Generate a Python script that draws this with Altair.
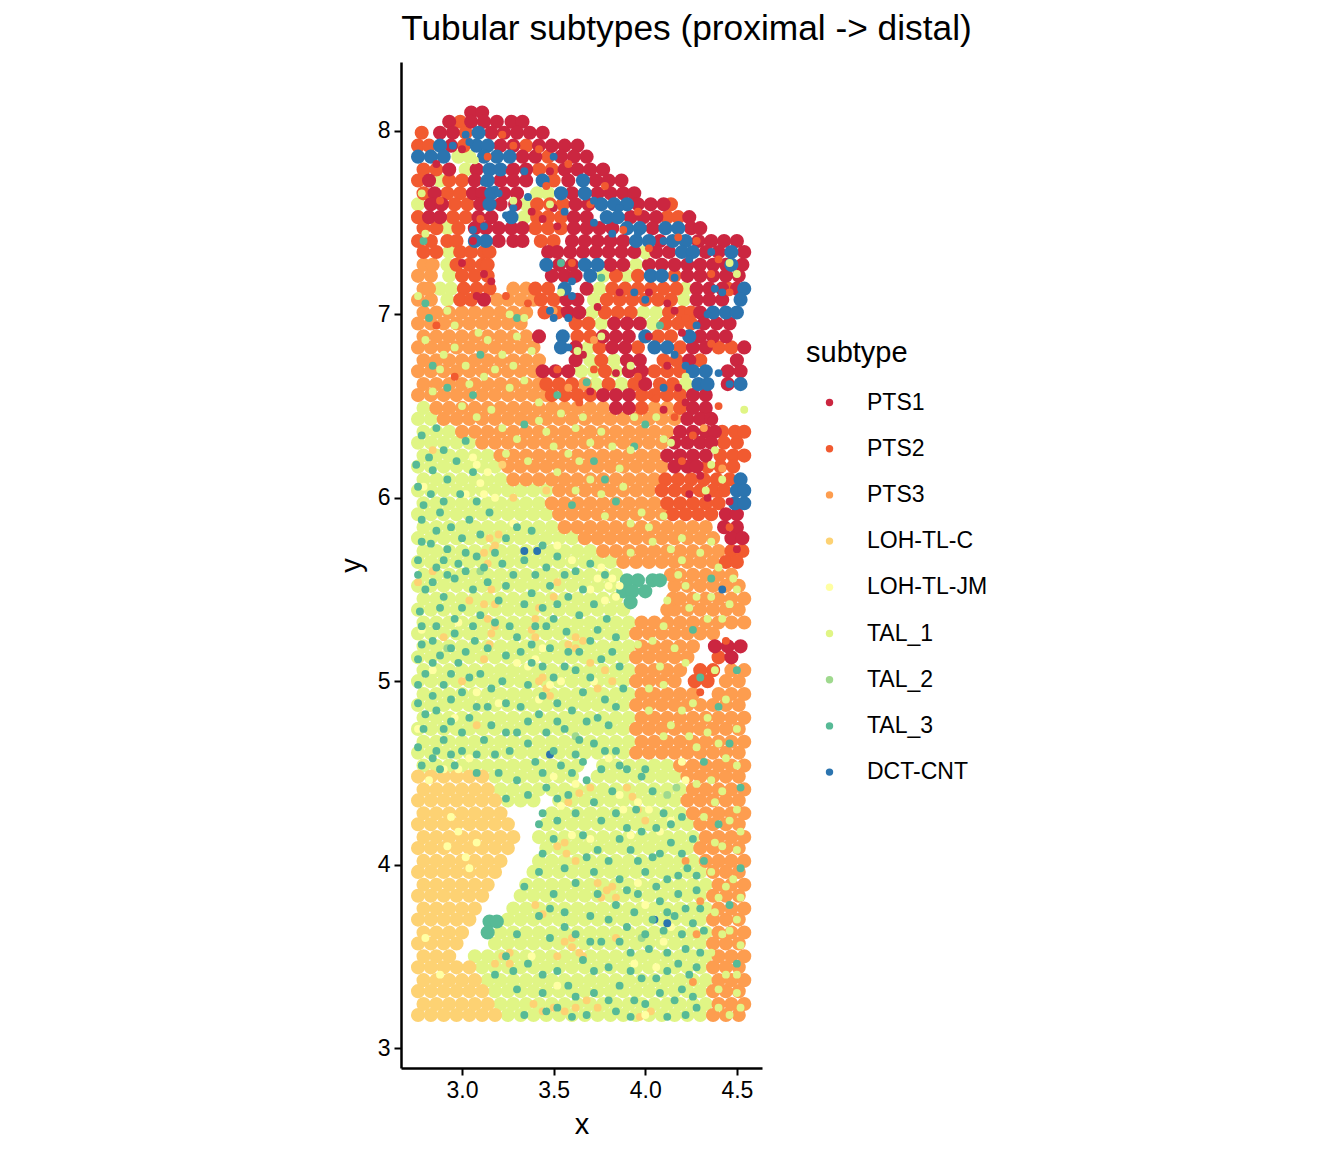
import altair as alt
import pandas as pd

SUBTYPES = ["PTS1", "PTS2", "PTS3", "LOH-TL-C", "LOH-TL-JM", "TAL_1", "TAL_2", "TAL_3", "DCT-CNT"]
COLOURS = ["#CB2640", "#F15A30", "#FD9D4F", "#FDD273", "#FFFFA3", "#E0F585", "#9FD98E", "#57BA96", "#2B74AF"]

# broad patches, y value -> x values along that row
TAL_1_FIELD = {
    3.18: [3.25,3.32,3.39,3.46,3.53,3.60,3.67,3.74,3.81,3.88,3.95,4.02,4.09,4.16,4.23,4.30],
    3.24: [3.21,3.28,3.35,3.42,3.49,3.56,3.63,3.70,3.77,3.84,3.91,3.98,4.05,4.12,4.19,4.26,4.33],
    3.31: [3.18,3.25,3.32,3.39,3.46,3.53,3.60,3.67,3.74,3.81,3.88,3.95,4.02,4.09,4.16,4.23,4.30],
    3.37: [3.14,3.21,3.28,3.35,3.42,3.49,3.56,3.63,3.70,3.77,3.84,3.91,3.98,4.05,4.12,4.19,4.26,4.33],
    3.44: [3.11,3.18,3.25,3.32,3.39,3.46,3.53,3.60,3.67,3.74,3.81,3.88,3.95,4.02,4.09,4.16,4.23,4.30],
    3.50: [3.07,3.14,3.21,3.28,3.35,3.42,3.49,3.56,3.63,3.70,3.77,3.84,3.91,3.98,4.05,4.12,4.19,4.26,4.33],
    3.57: [3.18,3.25,3.32,3.39,3.46,3.53,3.60,3.67,3.74,3.81,3.88,3.95,4.02,4.09,4.16,4.23,4.30],
    3.63: [3.21,3.28,3.35,3.42,3.49,3.56,3.63,3.70,3.77,3.84,3.91,3.98,4.05,4.12,4.19,4.26,4.33],
    3.70: [3.25,3.32,3.39,3.46,3.53,3.60,3.67,3.74,3.81,3.88,3.95,4.02,4.09,4.16,4.23,4.30],
    3.76: [3.28,3.35,3.42,3.49,3.56,3.63,3.70,3.77,3.84,3.91,3.98,4.05,4.12,4.19,4.26,4.33],
    3.83: [3.32,3.39,3.46,3.53,3.60,3.67,3.74,3.81,3.88,3.95,4.02,4.09,4.16,4.23,4.30],
    3.89: [3.35,3.42,3.49,3.56,3.63,3.70,3.77,3.84,3.91,3.98,4.05,4.12,4.19,4.26,4.33],
    3.96: [3.39,3.46,3.53,3.60,3.67,3.74,3.81,3.88,3.95,4.02,4.09,4.16,4.23,4.30],
    4.02: [3.42,3.49,3.56,3.63,3.70,3.77,3.84,3.91,3.98,4.05,4.12,4.19,4.26],
    4.09: [3.46,3.53,3.60,3.67,3.74,3.81,3.88,3.95,4.02,4.09,4.16,4.23],
    4.15: [3.42,3.49,3.56,3.63,3.70,3.77,3.84,3.91,3.98,4.05,4.12,4.19,4.26],
    4.22: [3.46,3.53,3.60,3.67,3.74,3.81,3.88,3.95,4.02,4.09,4.16,4.23],
    4.28: [3.49,3.56,3.63,3.70,3.77,3.84,3.91,3.98,4.05,4.12,4.19],
    4.35: [3.25,3.32,3.39,3.53,3.60,3.67,3.74,3.81,3.88,3.95,4.02,4.09,4.16],
    4.41: [3.21,3.28,3.35,3.42,3.49,3.56,3.63,3.70,3.77,3.84,3.91,3.98,4.05,4.12,4.19],
    4.48: [3.18,3.25,3.32,3.39,3.46,3.53,3.60,3.74,3.81,3.88,3.95,4.02,4.09,4.16],
    4.54: [2.79,2.86,2.93,3.00,3.07,3.14,3.21,3.28,3.35,3.42,3.49,3.56,3.63,3.77,3.84,3.91,3.98,4.05,4.12],
    4.61: [2.76,2.83,2.90,2.97,3.04,3.11,3.18,3.25,3.32,3.39,3.46,3.53,3.60,3.67,3.74,3.81,3.88],
    4.67: [2.79,2.86,2.93,3.00,3.07,3.14,3.21,3.28,3.35,3.42,3.49,3.56,3.63,3.70,3.77,3.84,3.91],
    4.74: [2.76,2.83,2.90,2.97,3.04,3.11,3.18,3.25,3.32,3.39,3.46,3.53,3.60,3.67,3.74,3.81,3.88],
    4.80: [2.79,2.86,2.93,3.00,3.07,3.14,3.21,3.28,3.35,3.42,3.49,3.56,3.63,3.70,3.77,3.84,3.91],
    4.87: [2.76,2.83,2.90,2.97,3.04,3.11,3.18,3.25,3.32,3.39,3.46,3.53,3.60,3.67,3.74,3.81,3.88],
    4.93: [2.79,2.86,2.93,3.00,3.07,3.14,3.21,3.28,3.35,3.42,3.49,3.56,3.63,3.70,3.77,3.84,3.91],
    5.00: [2.76,2.83,2.90,2.97,3.04,3.11,3.18,3.25,3.32,3.39,3.46,3.53,3.60,3.67,3.74,3.81,3.88],
    5.06: [2.79,2.86,2.93,3.00,3.07,3.14,3.21,3.28,3.35,3.42,3.49,3.56,3.63,3.70,3.77,3.84,3.91],
    5.13: [2.76,2.83,2.90,2.97,3.04,3.11,3.18,3.25,3.32,3.39,3.46,3.53,3.60,3.67,3.74,3.81,3.88],
    5.19: [2.79,2.86,2.93,3.00,3.07,3.14,3.21,3.28,3.35,3.42,3.49,3.56,3.63,3.70,3.77,3.84,3.91],
    5.26: [2.76,2.83,2.90,2.97,3.04,3.11,3.18,3.25,3.32,3.39,3.46,3.53,3.60,3.67,3.74,3.81,3.88],
    5.32: [2.79,2.86,2.93,3.00,3.07,3.14,3.21,3.28,3.35,3.42,3.49,3.56,3.63,3.70,3.77,3.84,3.91],
    5.39: [2.76,2.83,2.90,2.97,3.04,3.11,3.18,3.25,3.32,3.39,3.46,3.53,3.60,3.67,3.74,3.81,3.88],
    5.45: [2.79,2.86,2.93,3.00,3.07,3.14,3.21,3.28,3.35,3.42,3.49,3.56,3.63,3.70,3.77,3.84],
    5.52: [2.76,2.83,2.90,2.97,3.04,3.11,3.18,3.25,3.32,3.39,3.46,3.53,3.60,3.67,3.74,3.81],
    5.58: [2.79,2.86,2.93,3.00,3.07,3.14,3.21,3.28,3.35,3.42,3.49,3.56,3.63,3.70,3.77,3.84],
    5.65: [2.76,2.83,2.90,2.97,3.04,3.11,3.18,3.25,3.32,3.39,3.46,3.53,3.60,3.67,3.74,3.81],
    5.71: [2.79,2.86,2.93,3.00,3.07,3.14,3.21,3.28,3.35,3.42,3.49,3.56,3.63,3.70],
    5.78: [2.76,2.83,2.90,2.97,3.04,3.11,3.18,3.25,3.32,3.39,3.46,3.53,3.60],
    5.84: [2.79,2.86,2.93,3.00,3.07,3.14,3.21,3.28,3.35,3.42,3.49],
    5.91: [2.76,2.83,2.90,2.97,3.04,3.11,3.18,3.25,3.32,3.39,3.46],
    5.97: [2.79,2.86,2.93,3.00,3.07,3.14,3.21,3.28,3.35,3.42],
    6.04: [2.76,2.83,2.90,2.97,3.04,3.11,3.18,3.25,3.32,3.39,3.46],
    6.10: [2.79,2.86,2.93,3.00,3.07,3.14,3.21],
    6.17: [2.76,2.83,2.90,2.97,3.04,3.11,3.18],
    6.23: [2.79,2.86,2.93,3.00,3.07,3.14],
    6.30: [2.76,2.83,2.90,2.97,3.04],
    6.36: [2.79,2.86,2.93],
    6.43: [2.76,2.83],
    6.49: [2.79],
    7.86: [2.98,3.04],
    7.79: [3.02],
    7.73: [2.88],
    7.66: [3.41,3.47],
    7.60: [2.76,3.35],
    7.53: [3.34],
    7.47: [2.92],
    7.34: [2.93,4.00],
    7.27: [2.92,3.95],
    7.21: [2.93,3.77,3.90],
    7.14: [2.88,2.94,3.75,4.22],
    7.08: [2.92,3.72,4.21],
    7.01: [3.71,3.99,4.06],
    6.95: [3.76,4.04],
    6.82: [3.69],
    6.75: [3.70,3.83],
    6.69: [3.65,3.72,3.84],
    6.62: [3.73,3.87,4.22],
}
LOH_C_FIELD = {
    3.18: [2.76,2.83,2.90,2.97,3.04,3.11,3.18],
    3.24: [2.79,2.86,2.93,3.00,3.07,3.14],
    3.31: [2.76,2.83,2.90,2.97,3.04,3.11],
    3.37: [2.79,2.86,2.93,3.00,3.07],
    3.44: [2.76,2.83,2.90,2.97,3.04],
    3.50: [2.79,2.86,2.93],
    3.57: [2.76,2.83,2.90,2.97],
    3.63: [2.79,2.86,2.93,3.00],
    3.70: [2.76,2.83,2.90,2.97,3.04],
    3.76: [2.79,2.86,2.93,3.00,3.07],
    3.83: [2.76,2.83,2.90,2.97,3.04,3.11],
    3.89: [2.79,2.86,2.93,3.00,3.07,3.14],
    3.96: [2.76,2.83,2.90,2.97,3.04,3.11,3.18],
    4.02: [2.79,2.86,2.93,3.00,3.07,3.14,3.21],
    4.09: [2.76,2.83,2.90,2.97,3.04,3.11,3.18,3.25],
    4.15: [2.79,2.86,2.93,3.00,3.07,3.14,3.21,3.28],
    4.22: [2.76,2.83,2.90,2.97,3.04,3.11,3.18,3.25],
    4.28: [2.79,2.86,2.93,3.00,3.07,3.14,3.21],
    4.35: [2.76,2.83,2.90,2.97,3.04,3.11,3.18],
    4.41: [2.79,2.86,2.93,3.00,3.07,3.14],
    4.48: [2.76,2.83,2.90,2.97,3.04,3.11],
}
PTS3_FIELD = {
    3.18: [4.37,4.44,4.51], 3.24: [4.40,4.47,4.54], 3.31: [4.37,4.44,4.51], 3.37: [4.40,4.47,4.54],
    3.44: [4.37,4.44,4.51], 3.50: [4.40,4.47,4.54], 3.57: [4.37,4.44,4.51], 3.63: [4.40,4.47,4.54],
    3.70: [4.37,4.44,4.51], 3.76: [4.40,4.47,4.54], 3.83: [4.37,4.44,4.51], 3.89: [4.40,4.47,4.54],
    3.96: [4.37,4.44,4.51], 4.02: [4.33,4.40,4.47,4.54], 4.09: [4.30,4.37,4.44,4.51],
    4.15: [4.33,4.40,4.47,4.54], 4.22: [4.30,4.37,4.44,4.51], 4.28: [4.26,4.33,4.40,4.47,4.54],
    4.35: [4.23,4.30,4.37,4.44,4.51], 4.41: [4.26,4.33,4.40,4.47,4.54],
    4.48: [4.23,4.30,4.37,4.44,4.51], 4.54: [4.19,4.26,4.33,4.40,4.47,4.54],
    4.61: [3.95,4.02,4.09,4.16,4.23,4.30,4.37,4.44,4.51],
    4.67: [3.98,4.05,4.12,4.19,4.26,4.33,4.40,4.47,4.54],
    4.74: [3.95,4.02,4.09,4.16,4.23,4.30,4.37,4.44,4.51],
    4.80: [3.98,4.05,4.12,4.19,4.26,4.33,4.40,4.47,4.54],
    4.87: [3.95,4.02,4.09,4.16,4.23,4.30,4.37,4.44,4.51],
    4.93: [3.98,4.05,4.12,4.19,4.26,4.40,4.47,4.54],
    5.00: [3.95,4.02,4.09,4.16,4.44,4.51],
    5.06: [3.98,4.05,4.12,4.19,4.47,4.54],
    5.13: [3.95,4.02,4.09,4.16,4.23],
    5.19: [3.98,4.05,4.12,4.19,4.26],
    5.26: [3.95,4.02,4.09,4.16,4.23,4.30,4.37],
    5.32: [3.98,4.05,4.12,4.19,4.26,4.33,4.40,4.47,4.54],
    5.39: [4.12,4.16,4.23,4.30,4.37,4.44,4.51],
    5.45: [4.15,4.19,4.26,4.33,4.40,4.47,4.54],
    5.52: [4.16,4.23,4.30,4.37,4.44,4.51],
    5.58: [4.14,4.19,4.26,4.33,4.40,4.47],
    5.65: [3.88,3.95,4.02,4.09,4.16,4.23,4.30,4.37],
    5.71: [3.77,3.84,3.91,3.98,4.05,4.12,4.19,4.26,4.33,4.40],
    5.78: [3.67,3.74,3.81,3.88,3.95,4.02,4.09,4.16,4.23,4.30,4.37],
    5.84: [3.56,3.63,3.70,3.77,3.84,3.91,3.98,4.05,4.12,4.19,4.26,4.33],
    5.91: [3.53,3.60,3.67,3.74,3.81,3.88,3.95,4.02,4.09],
    5.97: [3.49,3.56,3.63,3.70,3.77,3.84,3.91,3.98,4.05],
    6.04: [3.53,3.60,3.67,3.74,3.81,3.88,3.95,4.02],
    6.10: [3.28,3.35,3.42,3.49,3.56,3.63,3.70,3.77,3.84,3.91,3.98,4.05],
    6.17: [3.25,3.32,3.39,3.46,3.53,3.60,3.67,3.74,3.81,3.88,3.95,4.02,4.09],
    6.23: [3.21,3.28,3.35,3.42,3.49,3.56,3.63,3.70,3.77,3.84,3.91,3.98,4.05],
    6.30: [3.11,3.18,3.25,3.32,3.39,3.46,3.53,3.60,3.67,3.74,3.81,3.88,3.95,4.02,4.09],
    6.36: [3.00,3.07,3.14,3.21,3.28,3.35,3.42,3.49,3.56,3.63,3.70,3.77,3.84,3.91,3.98,4.05,4.12],
    6.43: [2.90,2.97,3.04,3.11,3.18,3.25,3.32,3.39,3.46,3.53,3.60,3.67,3.74,3.81,3.88,3.95,4.02,4.09,4.16],
    6.49: [2.86,2.93,3.00,3.07,3.14,3.21,3.28,3.35,3.42,3.49,3.56,3.63,3.70,3.77,4.05,4.12],
    6.56: [2.76,2.83,2.90,2.97,3.04,3.11,3.18,3.25,3.32,3.39,3.46],
    6.62: [2.79,2.86,2.93,3.00,3.07,3.14,3.21,3.28,3.35,3.42,3.67],
    6.69: [2.76,2.83,2.90,2.97,3.04,3.11,3.18,3.25,3.32,3.39],
    6.75: [2.79,2.86,2.93,3.00,3.07,3.14,3.21,3.28,3.35,3.42],
    6.82: [2.76,2.83,2.90,2.97,3.04,3.11,3.18,3.25,3.32,3.39],
    6.88: [2.79,2.86,2.93,3.00,3.07,3.14,3.21,3.28,3.35],
    6.95: [2.76,2.83,2.90,2.97,3.04,3.11,3.18,3.25,3.32],
    7.01: [2.79,2.86,2.93,3.00,3.07,3.14,3.21,3.28,3.35],
    7.08: [2.76,2.83,3.19,3.25,3.32,3.39],
    7.14: [2.79,2.82,3.28,3.35],
    7.21: [2.76,2.83],
    7.27: [2.79,2.84],
}
PTS2_FIELD = {
    8.05: [2.99],
    7.99: [2.78,3.02],
    7.92: [2.76,2.82,3.01,3.35],
    7.86: [3.47],
    7.79: [2.79,2.86,3.42,3.49],
    7.73: [2.76,2.93,3.00,3.50],
    7.66: [2.79,2.92,2.99],
    7.60: [2.96,3.03,3.41,3.48,3.55,4.14],
    7.53: [2.76,2.95,3.02,3.41,3.47,3.54,4.12,4.18],
    7.47: [2.79,2.86,2.98,3.40,3.47,3.54],
    7.40: [2.76,2.83,2.92,2.97,3.43,3.50],
    7.34: [2.79,2.86,2.99,3.05,3.12,3.15],
    7.27: [2.97,3.04,3.11,3.14],
    7.21: [3.00,3.07,3.14,3.84,3.96,4.16],
    7.14: [3.01,3.08,3.15,3.40,3.47,3.82,3.89,3.96,4.03,4.10,4.17,4.45],
    7.08: [2.99,3.05,3.43,3.50,3.79,3.86,3.93,4.00,4.07,4.14],
    7.01: [3.45,3.52,3.78,3.85,3.92,4.13,4.20,4.25],
    6.95: [3.62,3.69,4.11,4.18,4.25],
    6.88: [3.63,3.70,4.07,4.14],
    6.82: [3.75,3.96,4.19,4.40,4.47],
    6.75: [3.76,4.10,4.17,4.30],
    6.69: [3.78,4.05,4.12,4.19],
    6.62: [3.46,3.53,3.60,3.80,3.94,4.08,4.15],
    6.56: [3.49,3.56,3.63,3.70,3.98,4.05,4.12,4.19],
    6.49: [3.98,4.19],
    6.36: [4.42,4.49,4.54],
    6.30: [4.43,4.50],
    6.23: [4.41,4.48,4.54],
    6.17: [4.34,4.41,4.48],
    6.10: [4.11,4.18,4.25,4.32,4.39,4.46],
    6.04: [4.09,4.16,4.23,4.30,4.37,4.43],
    5.97: [4.12,4.19,4.26,4.33,4.40],
    5.91: [4.15,4.22,4.29,4.36],
    5.71: [4.47,4.53],
    5.65: [4.44,4.50],
    5.13: [4.40],
    5.06: [4.30,4.37],
    5.00: [4.27,4.34],
}
PTS1_FIELD = {
    8.10: [3.05,3.11],
    8.05: [2.93,3.05,3.12,3.19,3.27,3.33],
    7.99: [2.88,2.95,3.16,3.23,3.30,3.37,3.44],
    7.92: [2.94,3.21,3.28,3.42,3.49,3.56,3.63],
    7.86: [3.33,3.40,3.54,3.61,3.68],
    7.79: [2.93,3.08,3.28,3.35,3.56,3.63,3.70,3.77],
    7.73: [2.82,3.07,3.21,3.28,3.35,3.58,3.73,3.80,3.87],
    7.66: [2.85,3.06,3.11,3.23,3.30,3.60,3.74,3.81,3.88,3.94],
    7.60: [2.83,2.89,3.10,3.21,3.29,3.62,3.69,3.96,4.03,4.10],
    7.53: [2.82,2.88,3.09,3.16,3.61,3.68,3.92,3.99,4.06,4.24],
    7.47: [3.07,3.13,3.20,3.27,3.33,3.61,3.68,3.75,3.82,4.04,4.25,4.30],
    7.40: [3.20,3.28,3.33,3.60,3.67,3.74,3.81,3.88,4.08,4.29,4.36,4.43,4.50],
    7.34: [3.47,3.52,3.59,3.66,3.73,3.80,3.87,3.94,4.06,4.13,4.33,4.40,4.54],
    7.27: [3.53,3.60,3.81,3.88,4.02,4.09,4.16,4.23,4.30,4.37,4.44,4.53],
    7.21: [3.49,3.56,3.62,4.23,4.30,4.37,4.44,4.51],
    7.14: [3.68,4.28,4.35,4.42,4.50],
    7.08: [3.12,3.57,3.63,4.28,4.35,4.42],
    7.01: [3.58,3.64,4.30],
    6.95: [3.83,3.90,3.97,4.32,4.39,4.46],
    6.88: [3.42,3.77,3.84,3.91,4.30,4.37,4.44],
    6.82: [3.62,3.82,3.89,4.26,4.33,4.54],
    6.75: [3.62,3.90,3.97,4.24,4.50],
    6.69: [3.44,3.51,3.58,3.91,3.98,4.45,4.52],
    6.62: [4.00,4.45],
    6.56: [3.77,3.84,3.91,4.26,4.33],
    6.49: [3.84,3.91,4.26,4.33],
    6.43: [4.23,4.30,4.36],
    6.36: [4.19,4.26,4.33,4.38],
    6.30: [4.16,4.23,4.30,4.36],
    6.23: [4.12,4.19,4.26,4.33],
    6.17: [4.16,4.23,4.28],
    5.91: [4.44,4.50],
    5.84: [4.43,4.50],
    5.78: [4.47,4.53],
    5.19: [4.38,4.45,4.52],
    5.13: [4.47],
}
DCT_CNT_FIELD = {
    7.99: [3.09],
    7.92: [2.88,3.08,3.14],
    7.86: [2.76,2.83,2.90,3.12,3.19,3.26],
    7.79: [3.15,3.21],
    7.73: [3.14,3.44,3.66],
    7.66: [3.16,3.54,3.67],
    7.60: [3.15,3.76,3.83,3.90],
    7.53: [3.27,3.79,3.85],
    7.47: [3.90,3.97,4.11,4.18],
    7.40: [3.07,3.13,3.95,4.02,4.15,4.22],
    7.34: [4.20,4.26,4.47],
    7.27: [3.46,3.67,3.74,4.47],
    7.21: [3.70,4.03,4.09],
    7.14: [3.56,4.54],
    7.08: [4.52],
    7.01: [4.37,4.44,4.50],
    6.88: [3.55,4.00,4.24],
    6.82: [3.54,4.05,4.12],
    6.69: [4.26,4.33],
    6.62: [4.29,4.34,4.52],
    6.10: [4.52],
    6.04: [4.50,4.54],
    5.97: [4.49,4.54],
}
TAL_3_FIELD = {
    5.55: [3.90,3.96,4.04,4.08],
    5.49: [3.88,3.93,4.00],
    5.43: [3.92],
    3.69: [3.15,3.19],
    3.63: [3.14],
}

# single spots on top of the patches, (x, y)
TAL_3_SPOTS = [
    (2.78,6.34),(2.86,6.38),(3.02,6.31),(2.84,6.15),(2.92,6.10),(2.99,6.02),(2.79,5.96),(2.88,5.92),(2.94,5.84),(3.04,5.88),
    (2.83,5.75),(2.92,5.72),(3.02,5.70),(3.12,5.62),(2.76,5.66),(2.86,5.62),(2.96,5.56),(3.06,5.50),(2.80,5.50),(2.90,5.46),
    (2.77,5.38),(3.00,5.40),(3.10,5.36),(2.86,5.30),(2.96,5.26),(3.07,5.22),(2.78,5.20),(2.88,5.14),(2.98,5.10),(3.10,5.04),
    (2.80,5.04),(2.90,4.98),(3.00,4.94),(2.76,4.88),(2.86,4.84),(2.94,4.78),(3.04,4.80),(3.14,4.86),(2.79,4.74),(2.90,4.68),
    (3.00,4.62),(3.12,4.68),(2.84,4.58),(2.96,4.54),(3.08,4.50),(3.18,4.60),(3.24,4.72),(3.22,5.00),(3.24,5.14),(3.26,5.30),
    (3.20,5.44),(3.28,5.58),(3.24,5.78),(3.30,5.84),(3.34,5.66),(3.40,5.58),(3.46,5.62),(3.52,5.42),(3.44,5.40),(3.34,5.42),
    (3.30,5.24),(3.38,5.20),(3.46,5.30),(3.57,5.27),(3.64,5.36),(3.72,5.42),(3.79,5.34),(3.84,5.24),(3.70,5.22),(3.58,5.16),
    (3.44,5.08),(3.36,4.98),(3.50,5.02),(3.62,5.06),(3.76,5.12),(3.86,5.08),(3.32,4.86),(3.42,4.82),(3.52,4.88),(3.66,4.94),
    (3.78,4.90),(3.88,4.96),(3.26,4.62),(3.36,4.66),(3.46,4.72),(3.56,4.74),(3.68,4.78),(3.80,4.76),(3.40,4.56),(3.50,4.62),
    (3.62,4.60),(3.72,4.66),(3.84,4.62),(3.76,4.52),(3.60,4.50),(3.44,4.50),(3.30,4.46),(3.24,4.36),(3.36,4.38),(3.46,4.42),
    (3.58,4.38),(3.68,4.46),(3.90,4.52),(3.98,4.48),(3.44,4.28),(3.62,4.28),(3.72,4.34),(3.82,4.40),(3.95,4.30),(4.04,4.40),
    (3.42,4.22),(3.66,4.16),(3.76,4.24),(3.86,4.14),(3.98,4.18),(4.10,4.28),(4.20,4.26),(3.44,4.06),(3.56,3.98),(3.68,4.04),
    (3.80,4.02),(3.92,4.08),(4.04,4.04),(4.14,4.12),(4.26,4.14),(3.34,3.88),(3.50,3.84),(3.62,3.90),(3.74,3.84),(3.86,3.92),
    (4.00,3.96),(4.12,3.92),(4.23,3.98),(4.32,4.02),(3.42,3.72),(3.56,3.74),(3.70,3.72),(3.84,3.78),(3.96,3.84),(4.08,3.80),
    (4.18,3.84),(4.28,3.86),(3.30,3.62),(3.48,3.60),(3.62,3.62),(3.76,3.58),(3.90,3.66),(4.04,3.70),(4.16,3.72),(4.26,3.68),
    (4.32,3.64),(3.24,3.50),(3.36,3.46),(3.52,3.42),(3.66,3.48),(3.80,3.44),(3.92,3.52),(4.02,3.54),(4.12,3.42),(4.18,3.46),
    (4.24,3.40),(4.30,3.52),(3.18,3.40),(3.30,3.32),(3.44,3.30),(3.58,3.34),(3.72,3.30),(3.86,3.34),(3.98,3.38),(4.08,3.30),
    (4.20,3.32),(3.34,3.18),(3.52,3.22),(3.68,3.18),(3.84,3.20),(4.00,3.24),(4.12,3.17),(4.28,3.22),(4.50,3.46),(4.46,3.78),
    (4.52,3.98),(4.40,4.22),(4.52,4.42),(4.32,4.56),(4.46,4.66),(4.40,4.86),(4.30,5.02),(4.50,5.06),(4.26,5.28),(4.36,5.56),
    (3.84,5.98),(3.78,6.10),(3.72,6.20),(3.94,6.28),(4.00,6.40),(3.60,5.96),(3.34,6.40),(3.06,6.56),(2.92,6.60),(2.84,6.72),
    (2.82,6.98),(2.80,7.06),(2.79,7.40),(3.10,6.78),(3.30,6.98),(3.54,7.28),(3.76,7.20),(4.08,6.94),(3.52,6.56),(3.68,6.63),
    # denser part of the left and middle
    (2.75,6.18),(2.82,6.22),(2.90,6.26),(2.97,6.20),(3.06,6.14),(2.76,6.06),(2.83,6.02),(2.90,5.98),(3.08,5.98),(3.15,5.92),
    (2.78,5.88),(2.86,5.82),(3.00,5.78),(3.10,5.80),(3.18,5.70),(2.78,5.76),(2.90,5.66),(2.98,5.64),(3.08,5.68),(3.22,5.64),
    (2.76,5.58),(2.84,5.54),(2.92,5.58),(3.02,5.60),(3.14,5.54),(3.24,5.52),(2.88,5.40),(2.96,5.34),(3.06,5.30),(3.18,5.32),
    (2.78,5.30),(2.84,5.22),(2.94,5.18),(3.02,5.16),(3.14,5.18),(2.76,5.12),(2.84,5.10),(2.94,5.04),(3.04,5.02),(3.16,4.96),
    (2.76,4.98),(2.84,4.92),(2.94,4.90),(3.08,4.86),(3.24,4.88),(2.80,4.82),(2.90,4.74),(3.00,4.72),(3.16,4.76),(2.76,4.64),
    (2.86,4.62),(2.94,4.60),(3.08,4.60),(3.20,4.50),(2.78,4.54),(2.88,4.52),(3.38,5.82),(3.44,5.74),(3.52,5.68),(3.62,5.60),
    (3.70,5.64),(3.56,5.58),(3.66,5.50),(3.48,5.52),(3.38,5.48),(3.58,5.46),(3.78,5.58),(3.50,5.34),(3.40,5.30),(3.74,5.28),
    (3.32,5.16),(3.48,5.18),(3.64,5.16),(3.82,5.16),(3.38,5.10),(3.56,5.08),(3.70,5.02),(3.84,4.86),(3.44,4.92),(3.60,4.84),
    (3.74,4.80),(3.36,4.78),(3.52,4.78),(3.30,4.72),(3.64,4.68),(3.78,4.62),(3.54,4.54),(3.66,4.56),(3.86,4.54),(4.00,4.52),
    (3.52,4.36),(3.52,4.24),(3.84,4.28),(3.90,4.20),(4.06,4.20),(4.14,4.22),(3.50,4.14),(3.74,4.08),(3.96,4.02),(4.08,4.06),
    (4.20,4.06),(3.42,3.96),(3.72,3.96),(3.90,3.86),(4.06,3.88),(4.18,3.94),(4.28,3.94),(3.48,3.76),(3.80,3.70),(3.94,3.74),
    (4.12,3.74),(4.22,3.76),(4.30,3.76),(3.56,3.66),(3.70,3.58),(3.86,3.58),(4.00,3.62),(4.10,3.64),(4.20,3.62),(4.12,3.52),
    (4.22,3.54),(4.28,3.44),(4.06,3.38),(3.92,3.42),(3.72,3.42),(3.44,3.40),(3.28,3.42),(3.62,3.28),(3.80,3.26),(3.94,3.26),
    (4.16,3.26),(4.26,3.28),(3.46,3.20),(3.60,3.17),(3.92,3.17),(4.22,3.18),
]
TAL_1_SPOTS = [
    (2.78,7.66),(2.80,7.44),(2.76,7.10),(2.92,7.02),(2.96,6.94),(3.14,6.86),(3.09,6.90),(3.26,7.00),(3.34,6.98),(3.30,6.88),
    (3.22,6.78),(3.02,6.72),(2.90,6.78),(3.38,6.80),(3.12,6.66),(3.26,6.60),(2.84,6.58),(3.00,6.50),(3.16,6.48),(3.42,6.52),
    (3.54,6.46),(3.62,6.38),(3.70,6.30),(3.46,6.36),(3.36,6.20),(3.24,6.24),(3.52,6.14),(3.64,6.20),(3.76,6.02),(3.86,6.16),
    (3.92,6.26),(4.06,6.44),(4.10,6.32),(3.94,6.44),(4.14,6.30),(4.36,6.18),(4.38,6.26),(4.42,6.10),(4.33,6.04),(4.54,6.48),
    (3.98,5.92),(4.04,5.76),(4.14,5.72),(4.20,5.66),(3.92,5.70),(4.40,5.62),(4.50,5.50),(4.46,5.42),(4.28,5.46),(4.18,5.58),
    (4.24,5.40),(4.34,5.34),(4.38,5.06),(4.44,4.90),(4.20,4.84),(4.34,4.72),(4.50,4.74),(4.10,4.70),(4.28,4.64),(4.44,4.58),
    (4.36,4.46),(4.50,4.30),(4.38,4.34),(4.42,4.10),(4.52,4.18),(4.48,3.92),(4.40,3.82),(4.50,3.70),(4.42,3.62),(4.52,3.56),
    (4.44,3.40),(4.50,3.30),(4.40,3.22),(4.46,3.18),(4.08,5.08),(4.02,4.96),(4.16,5.18),(3.96,5.20),(4.10,5.30),(3.63,6.80),
    (3.76,6.88),(3.92,6.72),(4.00,7.32),(3.48,7.60),(3.54,7.12),(3.07,7.84),(3.28,7.62),(4.46,7.28),(4.50,7.22),(4.22,6.66),
    # flecks in the orange part
    (2.80,6.86),(2.88,6.70),(2.96,6.82),(3.04,6.62),(3.18,6.70),(3.28,6.72),(3.34,6.64),(3.08,6.44),(3.22,6.38),(3.30,6.32),
    (3.42,6.42),(3.50,6.28),(3.58,6.24),(3.66,6.44),(3.76,6.36),(3.82,6.28),(3.88,6.06),(3.70,6.10),(3.62,6.04),(3.78,5.90),
    (3.92,5.86),(4.02,5.84),(4.10,5.90),(4.20,5.78),(4.30,5.70),(4.36,5.76),(4.48,5.56),(4.36,5.46),(4.22,5.52),(4.42,5.34),
    (4.12,5.44),(4.04,5.22),(4.22,5.10),(4.10,4.98),(4.02,4.84),(4.14,4.76),(4.26,4.88),(4.34,4.80),(4.24,4.70),(4.40,4.66),
    (4.50,4.54),(4.28,4.44),(4.42,4.40),(4.32,4.26),(4.46,4.24),(4.38,4.12),(4.50,4.08),(4.36,3.96),(4.44,3.88),(4.52,3.82),
    (4.38,3.74),(4.46,3.64),(4.36,3.52),(4.50,3.40),(4.40,3.32),(4.52,3.22),
]
LOH_JM_SPOTS = [
    (3.08,6.18),(3.14,6.14),(3.10,6.08),(3.02,6.02),(3.18,6.00),(3.28,5.86),(3.52,5.74),(3.60,5.66),(3.74,5.56),(3.80,5.52),
    (3.84,5.46),(3.78,5.44),(3.70,5.50),(3.44,5.18),(3.40,5.12),(3.36,5.08),(3.30,5.10),(3.72,5.00),(2.98,4.52),(2.90,4.52),
    (2.82,4.46),(3.04,4.58),(2.78,5.28),(2.84,5.06),(2.98,5.32),(3.08,4.94),(3.20,4.88),(2.96,4.80),(2.76,4.74),(2.79,6.06),
    (3.86,4.38),(3.96,4.34),(4.08,4.18),(4.14,4.24),(3.60,4.16),(3.70,4.14),(4.00,3.78),(4.10,3.58),(4.14,3.66),(3.38,3.50),
    (3.52,3.34),(3.94,3.46),(4.06,3.44),(4.00,3.18),(3.04,3.98),(2.98,4.18),(3.08,4.12),(3.02,4.04),(2.80,3.60),(2.88,3.40),
    (3.62,4.44),(3.54,4.32),(3.80,4.58),(4.20,4.56),(4.22,4.46),(3.06,6.22),(3.12,6.02),(3.82,5.56),(3.76,5.62),(3.86,5.52),
    (3.48,4.98),(3.54,5.00),(3.42,4.90),(3.50,4.48),(3.88,4.30),(4.02,4.30),(3.92,4.16),(3.96,3.90),(2.92,4.10),(2.94,4.26),
]
LOH_C_SPOTS = [
    (3.15,5.78),(3.17,5.72),(3.14,5.64),(3.52,5.54),(3.50,5.46),(3.16,5.50),(3.18,5.42),(3.14,5.34),(3.16,5.26),(3.15,5.20),
    (3.40,5.34),(3.38,5.28),(3.42,5.40),(3.62,5.24),(3.58,5.20),(3.44,5.02),(3.46,4.96),(3.78,5.06),(3.82,5.00),(3.70,5.10),
    (2.84,5.60),(2.76,5.54),(3.00,5.00),(2.90,5.24),(3.22,6.18),(2.84,6.26),(3.04,5.44),(3.93,4.37),(3.96,4.30),(3.90,4.42),
    (3.79,3.86),(3.74,3.90),(3.84,3.82),(3.57,4.06),(3.52,4.10),(3.62,4.02),(3.60,3.55),(3.64,3.52),(3.56,3.58),(3.22,3.50),
    (3.26,3.46),(3.39,3.24),(3.44,3.20),(3.62,3.22),(3.68,3.26),(3.97,3.17),(4.03,3.20),(3.52,3.50),(3.44,3.73),(3.40,3.78),
    (3.64,4.39),(3.58,4.34),(3.70,4.42),(4.00,4.24),(3.28,6.00),(3.46,6.04),(3.12,5.12),(3.84,3.60),(3.08,4.76),(3.18,5.74),
    (3.20,5.80),(3.12,5.70),(3.18,5.30),(3.12,5.42),(3.40,5.24),(3.62,5.18),(3.66,5.22),(3.42,5.00),(3.48,4.92),(3.74,4.96),
    (3.82,3.88),(3.76,3.82),(3.56,4.12),(3.60,3.60),(3.66,3.50),(3.26,3.52),(3.18,3.46),(3.50,3.22),(3.56,3.20),(3.74,3.22),
]
TAL_2_SPOTS = [(4.17,4.42),(4.12,4.38),(3.10,5.60),(3.62,4.70),(3.98,3.60),(2.92,5.18)]
PTS3_SPOTS = [(4.26,3.36),(4.28,3.62),(4.30,3.80),(4.22,4.02),(4.42,6.16),(3.50,7.02),(3.58,6.60),(3.72,6.86),(4.32,6.38)]
PTS2_SPOTS = [
    (3.10,7.52),(3.46,7.70),(3.28,7.92),(3.70,7.60),(3.88,7.46),(4.02,7.36),(4.36,7.22),(4.46,7.12),(4.28,7.40),(3.60,7.28),
    (4.22,6.98),(4.36,6.84),(4.06,6.54),(3.72,6.70),(4.40,6.50),(4.46,5.84),(4.20,6.20),(4.44,5.22),(3.96,6.66),(4.30,4.94),
    (2.88,7.62),(3.14,7.86),(3.22,7.98),(3.42,7.90),(3.58,7.82),(3.78,7.70),(3.96,7.56),(4.18,7.42),(4.40,7.30),(2.86,6.94),
    (2.96,6.66),(3.24,7.10),(3.36,7.06),(3.52,6.70),(3.64,6.52),(4.40,6.02),(4.50,6.30),(4.26,6.34),(4.16,6.44),(4.02,6.56),
]
PTS1_SPOTS = [
    (2.86,7.82),(3.00,7.90),(3.26,7.78),(3.48,7.78),(3.38,7.56),(3.44,7.52),(3.52,7.48),(3.12,7.22),(3.08,7.10),(3.56,7.02),
    (3.74,7.04),(3.86,7.12),(4.02,7.12),(4.16,7.02),(4.12,6.72),(4.18,6.60),(4.10,6.48),(4.30,6.12),(4.34,6.00),(4.24,6.02),
    (4.50,5.72),(3.84,6.68),(4.02,6.88),(3.16,7.18),(3.00,7.28),(3.06,7.40),(3.50,7.58),(4.12,7.06),(4.20,6.90),(3.66,6.78),
    (3.70,6.58),(4.22,6.52),(4.36,6.42),(4.46,5.98),
]
DCT_CNT_SPOTS = [
    (3.34,5.71),(3.41,5.71),(3.36,7.64),(3.28,7.58),(3.56,7.56),(3.72,7.62),(3.86,7.58),(4.00,7.08),(4.38,7.14),(4.52,7.10),
    (3.94,7.12),(4.16,7.20),(3.48,7.02),(3.58,6.98),(3.60,7.18),(4.10,6.60),(4.42,5.50),(3.48,4.60),(4.12,3.68),(4.05,3.70),
    (3.12,7.72),(3.18,7.68),(4.34,7.00),(4.46,6.62),(2.95,7.92),(3.02,7.98),(3.34,7.78),(3.50,7.86),(3.72,7.50),(3.82,7.44),
    (3.96,7.44),(4.10,7.40),(4.24,7.30),(4.36,7.34),(4.42,7.12),(4.28,6.94),(4.16,6.78),(4.22,6.72),(4.40,6.68),(3.50,6.98),
    (3.58,6.82),(3.60,7.10),(3.12,7.48),(3.06,7.46),(3.24,7.54),(3.20,7.66),(3.04,7.94),
]

# tick labels
X_TICKS = [3.0, 3.5, 4.0, 4.5]
Y_TICKS = [3, 4, 5, 6, 7, 8]

fields = [
    ("TAL_1", TAL_1_FIELD), ("LOH-TL-C", LOH_C_FIELD), ("PTS3", PTS3_FIELD), ("PTS2", PTS2_FIELD),
    ("PTS1", PTS1_FIELD), ("DCT-CNT", DCT_CNT_FIELD), ("TAL_3", TAL_3_FIELD),
]
spots = [
    ("LOH-TL-C", LOH_C_SPOTS), ("LOH-TL-JM", LOH_JM_SPOTS), ("TAL_2", TAL_2_SPOTS), ("PTS3", PTS3_SPOTS),
    ("PTS2", PTS2_SPOTS), ("PTS1", PTS1_SPOTS), ("DCT-CNT", DCT_CNT_SPOTS), ("TAL_3", TAL_3_SPOTS), ("TAL_1", TAL_1_SPOTS),
]

field_rows = []
for name, rows in fields:
    for y, xs in rows.items():
        for x in xs:
            field_rows.append({"x": x, "y": y, "subtype": name})
spot_rows = []
for name, pairs in spots:
    for x, y in pairs:
        spot_rows.append({"x": x, "y": y, "subtype": name})

x_enc = alt.X("x:Q", title="x", scale=alt.Scale(domain=[2.667, 4.637], nice=False, zero=False),
              axis=alt.Axis(values=X_TICKS, format=".1f"))
y_enc = alt.Y("y:Q", title="y", scale=alt.Scale(domain=[2.891, 8.376], nice=False, zero=False),
              axis=alt.Axis(values=Y_TICKS, format="d", titlePadding=11))
colour = alt.Color("subtype:N", scale=alt.Scale(domain=SUBTYPES, range=COLOURS), sort=SUBTYPES,
                   legend=alt.Legend(title="subtype", orient="none", legendX=405, legendY=277, symbolSize=55,
                                     symbolType="circle", symbolStrokeWidth=0, symbolOpacity=1,
                                     rowPadding=22.2, labelOffset=26, symbolOffset=12, titlePadding=23))

patches = alt.Chart(pd.DataFrame(field_rows)).mark_circle(size=200, opacity=1).encode(x=x_enc, y=y_enc, color=colour)
dots = alt.Chart(pd.DataFrame(spot_rows)).mark_circle(size=62, opacity=1).encode(x=x_enc, y=y_enc, color=colour)

chart = alt.layer(patches, dots).properties(
    width=361,
    height=1006,
    padding={"left": 329, "top": 4, "right": 5, "bottom": 5},
    title=alt.TitleParams("Tubular subtypes (proximal -> distal)", anchor="start", fontSize=35.3, fontWeight="normal",
                          font="Liberation Sans", color="black", offset=14.5, dx=64),
).configure_view(stroke=None).configure_axis(
    grid=False, domainColor="black", domainWidth=2.5, tickColor="black", tickWidth=2, tickSize=7,
    labelColor="black", labelFont="Liberation Sans", labelFontSize=23, labelPadding=4,
    titleColor="black", titleFont="Liberation Sans", titleFontSize=29, titleFontWeight="normal", titlePadding=8,
).configure_axisX(labelAngle=0).configure_legend(
    titleFont="Liberation Sans", titleFontSize=29, titleFontWeight="normal", titleColor="black",
    labelFont="Liberation Sans", labelFontSize=23, labelColor="black",
)

chart.save("out.html", embed_options={"renderer": "svg", "actions": False})
